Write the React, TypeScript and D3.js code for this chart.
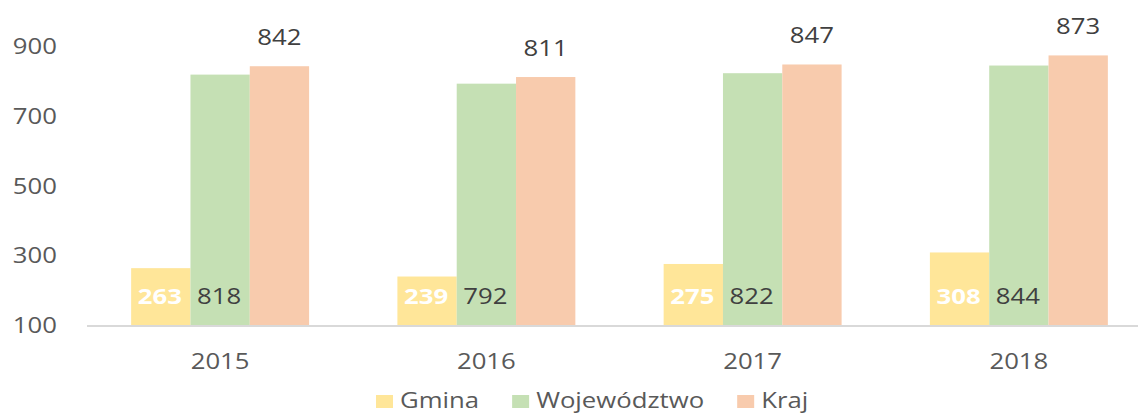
import React from 'react'
import * as d3 from 'd3'

const years = ['2015', '2016', '2017', '2018']
const seriesNames = ['Gmina', 'Województwo', 'Kraj']
const gmina = [263, 239, 275, 308]
const wojewodztwo = [818, 792, 822, 844]
const kraj = [842, 811, 847, 873]
const yTicks = [100, 300, 500, 700, 900]

const colors = ['#FFE699', '#C5E0B4', '#F8CBAD']
const FONT = '"Open Sans", "Noto Sans", sans-serif'
const FS = 22
const SX = 1.17 // the reference text looks horizontally stretched

const width = 1138
const height = 413

// text helper: draws text at (x, y) stretched horizontally
const Label = ({x, y, anchor = 'middle', fill = '#595959', weight = 400, children}) => (
    <g transform={`translate(${x},${y}) scale(${SX},1)`}>
        <text
        textAnchor={anchor}
        fontFamily={FONT}
        fontSize={FS}
        fontWeight={weight}
        fill={fill}
        >{children}</text>
    </g>
)

const measure = (s: string) => {
    const ctx = document.createElement('canvas').getContext('2d')
    if (!ctx) return s.length * 12
    ctx.font = `${FS}px ${FONT}`
    return ctx.measureText(s).width * SX
}

export default function App() {
    const values = [gmina, wojewodztwo, kraj]

    const xScale = d3.scaleBand()
    .domain(years)
    .range([87, 1152])
    .paddingInner(0.3316)
    .paddingOuter(0.1658)

    const xInner = d3.scaleBand()
    .domain(seriesNames)
    .range([0, xScale.bandwidth()])

    const yScale = d3.scaleLinear()
    .domain([100, 900])
    .range([325, 46])

    const base = yScale(100)

    // legend layout
    const sw = 17
    let lx = 376
    const legend = seriesNames.map((name, i) => {
        const item = {name, x: lx, color: colors[i]}
        lx += sw + 7 + measure(name) + 33
        return item
    })

    return (
        <div style={{position: 'fixed', left: 0, top: 0, background: '#fff'}}>
            <svg width={width} height={height} style={{display: 'block'}}>
                <rect width={width} height={height} fill="#fff" />
                {
                    yTicks.map(t =>
                        <Label key={t} x={57} y={yScale(t) + 8} anchor="end">{t}</Label>
                    )
                }
                {
                    years.map((yr, i) =>
                        <g key={yr} transform={`translate(${xScale(yr)},0)`}>
                            {
                                seriesNames.map((s, j) => {
                                    const v = values[j][i]
                                    return (
                                        <rect
                                        key={s}
                                        x={xInner(s)}
                                        y={yScale(v)}
                                        width={xInner.bandwidth()}
                                        height={base - yScale(v)}
                                        fill={colors[j]}
                                        />
                                    )
                                })
                            }
                            <Label x={xInner('Gmina') + xInner.bandwidth() / 2 - 1} y={base - 21} fill="#ffffff" weight={700}>{gmina[i]}</Label>
                            <Label x={xInner('Województwo') + xInner.bandwidth() / 2 - 1} y={base - 21} fill="#404040">{wojewodztwo[i]}</Label>
                            <Label x={xInner('Kraj') + xInner.bandwidth() / 2} y={yScale(kraj[i]) - 21} fill="#404040">{kraj[i]}</Label>
                            <Label x={xScale.bandwidth() / 2} y={369}>{yr}</Label>
                        </g>
                    )
                }
                <line x1={87} x2={1152} y1={base + 1} y2={base + 1} stroke="#D9D9D9" strokeWidth={2} />
                {
                    legend.map(d =>
                        <g key={d.name}>
                            <rect x={d.x} y={395} width={sw} height={13} fill={d.color} />
                            <Label x={d.x + sw + 7} y={408} anchor="start">{d.name}</Label>
                        </g>
                    )
                }
            </svg>
        </div>
    )
}
